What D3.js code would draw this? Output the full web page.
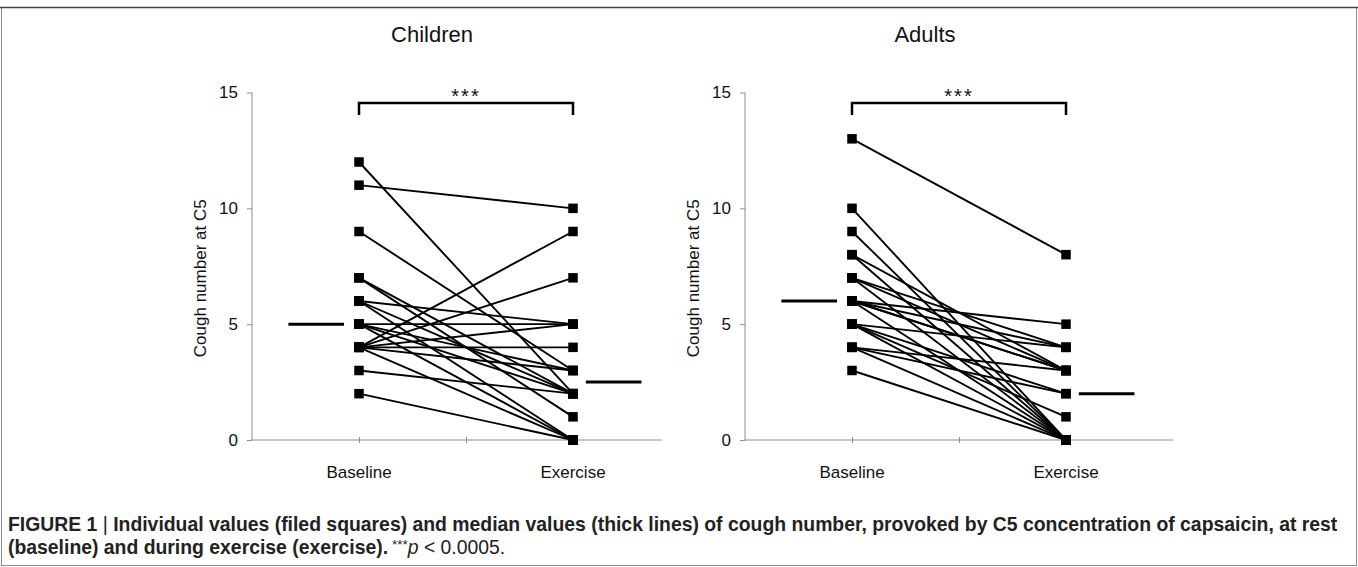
<!DOCTYPE html>
<html>
<head>
<meta charset="utf-8">
<script src="https://cdn.jsdelivr.net/npm/d3@7"></script>
<style>
    body { margin: 0; background: white; }
    svg { display: block; font-family: "Liberation Sans", Arial, sans-serif; }
</style>
</head>
<body>
<script>
// values, one entry per subject (baseline -> exercise)
const panels = ["Children", "Adults"];
const conditions = ["Baseline", "Exercise"];
const childrenBaseline = [12, 11, 9, 7, 7, 6, 6, 6, 5, 5, 5, 5, 4, 4, 4, 4, 4, 4, 3, 2];
const childrenExercise = [ 2, 10, 3, 2, 1, 5, 2, 0, 5, 3, 2, 0, 9, 7, 5, 4, 3, 0, 2, 0];
const adultsBaseline = [13, 10, 9, 8, 8, 7, 7, 7, 6, 6, 6, 6, 6, 5, 5, 5, 5, 4, 4, 4, 3];
const adultsExercise = [ 8,  0, 0, 3, 0, 4, 3, 0, 5, 4, 3, 3, 0, 4, 2, 1, 0, 3, 2, 0, 0];
const childrenMedians = [5, 2.5];
const adultsMedians = [6, 2];
const yTicks = [0, 5, 10, 15];
const yLabel = "Cough number at C5";
const significance = "***";

const W = 1358, H = 567;

let svg = d3.select('body').append('svg')
    .attr('width', W)
    .attr('height', H);

// figure frame
svg.append('rect')
    .attr('x', 1.5).attr('y', 7.5)
    .attr('width', W - 3).attr('height', H - 9)
    .attr('fill', 'none')
    .attr('stroke', '#8a8a8a')
    .attr('stroke-width', 1);
svg.append('line')
    .attr('x1', 0).attr('x2', W)
    .attr('y1', 7.5).attr('y2', 7.5)
    .attr('stroke', '#444')
    .attr('stroke-width', 1.5);

function Panel(title, baseline, exercise, medians, {
    offsetX=0,
    xEnd=3.83,
    axisColor='#8c8c8c',
    markerSize=9.5,
    lineWidth=1.9,
}={}) {
    let g = svg.append('g').attr('transform', `translate(${offsetX},0)`);
    let X = d3.scaleLinear().domain([0, 4]).range([252, 252 + 4*107]);
    let Y = d3.scaleLinear().domain([0, 15]).range([440, 92.5]);
    let pos = {Baseline: 1, Exercise: 3};

    g.append('text')
        .text(title)
        .attr('x', 432)
        .attr('y', 42)
        .attr('text-anchor', 'middle')
        .attr('font-size', 22)
        .attr('fill', '#111');

    // y axis
    let yAxis = d3.axisLeft(Y).tickValues(yTicks).tickSize(5).tickPadding(9);
    g.append('g')
        .attr('transform', `translate(${X(0)},0)`)
        .call(yAxis)
        .call(a => a.select('.domain').remove())
        .call(a => a.selectAll('line').attr('stroke', axisColor))
        .call(a => a.selectAll('text')
            .attr('font-size', 17)
            .attr('font-family', '"Liberation Sans", Arial, sans-serif')
            .attr('fill', '#111'));
    g.append('line')
        .attr('x1', X(0)).attr('x2', X(0))
        .attr('y1', Y(0)).attr('y2', Y(15))
        .attr('stroke', axisColor);

    // x axis (category axis with a tick between the categories)
    let xAxis = d3.axisBottom(X).tickValues([1, 2, 3]).tickSize(6).tickFormat('');
    g.append('g')
        .attr('transform', `translate(0,${Y(0) - 3})`)
        .call(xAxis)
        .call(a => a.select('.domain').remove())
        .call(a => a.selectAll('line').attr('stroke', axisColor));
    g.append('line')
        .attr('x1', X(0)).attr('x2', X(xEnd))
        .attr('y1', Y(0)).attr('y2', Y(0))
        .attr('stroke', axisColor);
    g.selectAll('text.cond')
        .data(conditions)
        .join('text')
        .attr('class', 'cond')
        .text(d => d)
        .attr('x', d => X(pos[d]))
        .attr('y', 478)
        .attr('text-anchor', 'middle')
        .attr('font-size', 17)
        .attr('fill', '#111');

    g.append('text')
        .text(yLabel)
        .attr('transform', `translate(206,${(Y(0)+Y(15))/2 + 12}) rotate(-90)`)
        .attr('text-anchor', 'middle')
        .attr('font-size', 17)
        .attr('fill', '#111');

    // significance bracket
    g.append('path')
        .attr('d', `M${X(1)},${115} V${103} H${X(3)} V${115}`)
        .attr('fill', 'none')
        .attr('stroke', '#000')
        .attr('stroke-width', 2.5);
    g.append('text')
        .text(significance)
        .attr('x', X(2))
        .attr('y', 103)
        .attr('text-anchor', 'middle')
        .attr('font-size', 20)
        .attr('letter-spacing', 2)
        .attr('fill', '#111');

    // paired lines
    let pairs = baseline.map((b, i) => ({b: b, e: exercise[i]}));
    g.append('g').selectAll('line')
        .data(pairs)
        .join('line')
        .attr('x1', X(pos.Baseline))
        .attr('x2', X(pos.Exercise))
        .attr('y1', d => Y(d.b))
        .attr('y2', d => Y(d.e))
        .attr('stroke', '#000')
        .attr('stroke-width', lineWidth);

    // filled squares
    let points = [];
    pairs.forEach(d => {
        points.push({c: 'Baseline', v: d.b});
        points.push({c: 'Exercise', v: d.e});
    });
    g.append('g').selectAll('rect')
        .data(points)
        .join('rect')
        .attr('x', d => X(pos[d.c]) - markerSize/2)
        .attr('y', d => Y(d.v) - markerSize/2)
        .attr('width', markerSize)
        .attr('height', markerSize)
        .attr('fill', '#000');

    // medians (thick lines)
    let medianPos = [0.6, 3.38];
    g.append('g').selectAll('line')
        .data(medians)
        .join('line')
        .attr('x1', (d, i) => X(medianPos[i] - 0.26))
        .attr('x2', (d, i) => X(medianPos[i] + 0.26))
        .attr('y1', d => Y(d))
        .attr('y2', d => Y(d))
        .attr('stroke', '#000')
        .attr('stroke-width', 3);
    return g;
}

Panel(panels[0], childrenBaseline, childrenExercise, childrenMedians, {offsetX: 0, xEnd: 3.83});
Panel(panels[1], adultsBaseline, adultsExercise, adultsMedians, {offsetX: 493, xEnd: 4.0});

// caption
let cap1 = svg.append('text')
    .attr('x', 8)
    .attr('y', 531)
    .attr('font-size', 15)
    .attr('font-weight', 'bold')
    .attr('fill', '#222');
cap1.append('tspan').text('FIGURE 1 ');
cap1.append('tspan').text('|').attr('font-weight', 'normal');
cap1.append('tspan').text(' Individual values (filed squares) and median values (thick lines) of cough number, provoked by C5 concentration of capsaicin, at rest');
// fit the first line to the width it has in the figure
let fs = 15 * 1330 / cap1.node().getComputedTextLength();
cap1.attr('font-size', fs);

let cap2 = svg.append('text')
    .attr('x', 8)
    .attr('y', 554)
    .attr('font-size', fs)
    .attr('fill', '#222');
cap2.append('tspan').text('(baseline) and during exercise (exercise).').attr('font-weight', 'bold');
cap2.append('tspan').text(' ***').attr('font-size', fs * 0.7).attr('dy', -5);
cap2.append('tspan').text('p').attr('font-style', 'italic').attr('dy', 5);
cap2.append('tspan').text(' < 0.0005.');
</script>
</body>
</html>
